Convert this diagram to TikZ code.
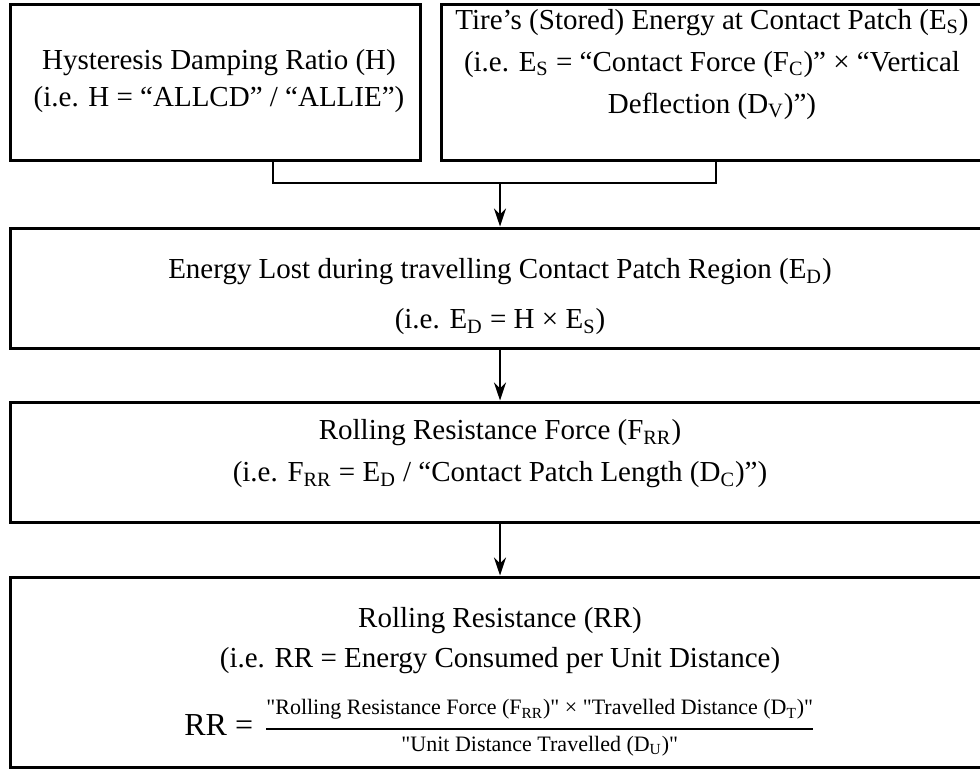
\documentclass[tikz,border=0pt]{standalone}
\usepackage{fontspec}
\setmainfont{Liberation Serif}
\usepackage{amsmath}
\usetikzlibrary{positioning,calc,arrows.meta}
\def\sb#1{\textsubscript{#1}}
\def\qt{\textquotedbl}
\tikzset{blk/.style={draw,line width=1.5pt,rectangle,inner sep=0pt}  }
\tikzset{txt/.style={align=center,inner sep=0pt,font=\fontsize{14.5}{21}\selectfont}  }
\tikzset{conn/.style={line width=1pt}  }
\tikzset{>={Stealth[length=9pt,width=6pt,inset=3pt]}}

\begin{document}
\begin{tikzpicture}[x=0.5pt,y=-0.5pt]
		\clip (0,0) rectangle (980,771);
		% boxes
		\node[blk,minimum width=205pt,minimum height=78pt] (hyst) at (215,82) {};
		\node[blk,minimum width=292pt,minimum height=78pt] (stored) at (733,82) {};
		\node[blk,minimum width=490pt,minimum height=60pt] (lost) at (500,288) {};
		\node[blk,minimum width=490pt,minimum height=60pt] (force) at (500,462) {};
		\node[blk,minimum width=490pt,minimum height=95pt] (rr) at (500,672) {};

		\node[txt,font=\fontsize{14.5}{18.5}\selectfont] (hysttxt) at (219,81.5)
			{Hysteresis Damping Ratio (H)\\(i.e. H = “ALLCD” / “ALLIE”)};
		\node[txt] (storedtxt) at (712,64.5)
			{Tire’s (Stored) Energy at Contact Patch (E\sb{S})\\(i.e. E\sb{S} = “Contact Force (F\sb{C})” × “Vertical\\Deflection (D\sb{V})”)};
		\node[txt,font=\fontsize{14.5}{25}\selectfont] (losttxt) at (500,297)
			{Energy Lost during travelling Contact Patch Region (E\sb{D})\\(i.e. E\sb{D} = H × E\sb{S})};
		\node[txt] (forcetxt) at (500,454)
			{Rolling Resistance Force (F\sb{RR})\\(i.e. F\sb{RR} = E\sb{D} / “Contact Patch Length (D\sb{C})”)};
		\node[txt,font=\fontsize{14.5}{20}\selectfont] (rrtxt) at (500,641)
			{Rolling Resistance (RR)\\(i.e. RR = Energy Consumed per Unit Distance)};
		\node[inner sep=0pt,font=\fontsize{13}{15}\selectfont] (rrfrac) at (500,728)
			{{\fontsize{16}{18}\selectfont RR =}\, $\genfrac{}{}{0.8pt}{0}
			{\raisebox{2pt}{\fontsize{11}{13}\selectfont \qt Rolling Resistance Force (F\sb{RR})\qt{} × \qt Travelled Distance (D\sb{T})\qt}}
			{\text{\fontsize{11}{13}\selectfont \qt Unit Distance Travelled (D\sb{U})\qt}}$};

		% connectors
		\coordinate (mrg) at (500,183);
		\draw[conn] ([xshift=29pt]hyst.south) |- (mrg) -| ([xshift=-8.5pt]stored.south);
		\draw[conn,->] (mrg) -- (lost);
		\draw[conn,->] (lost) -- (force);
		\draw[conn,->] (force) -- (rr);
\end{tikzpicture}
\end{document}
